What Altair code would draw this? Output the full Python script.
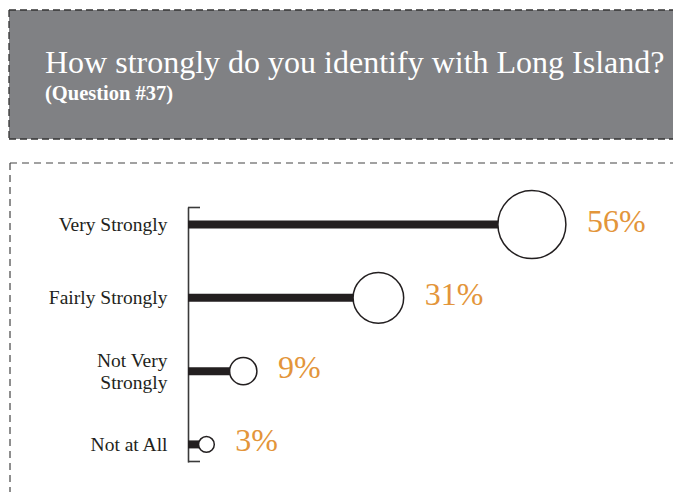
import altair as alt
import pandas as pd

categories = ["Very Strongly", "Fairly Strongly", "Not Very Strongly", "Not at All"]
percents = [56, 31, 9, 3]
title_text = "How strongly do you identify with Long Island?"
subtitle_text = "(Question #37)"

df = pd.DataFrame({"cat": categories, "pct": percents})
df["label"] = [f"{p}%" for p in percents]

X_MAX = 78
W, H = 479, 255
PX_PER_UNIT = W / X_MAX
SIZE_PER_UNIT = 4624 / 56.0

y_enc = alt.Y(
    "cat:N",
    sort=categories,
    scale=alt.Scale(type="point", padding=0.24),
    axis=alt.Axis(
        title=None, ticks=False, grid=False, domain=True,
        domainColor="#3a3a3a", domainWidth=1.6,
        labelPadding=21, labelFontSize=19.5, labelFont="Liberation Serif",
        labelColor="#231f20", labelLineHeight=22,
        labelExpr="datum.value == 'Not Very Strongly' ? ['Not Very', 'Strongly'] : datum.value",
        labelOffset={"condition": {"test": "datum.value == 'Not Very Strongly'", "value": -11}, "value": 0},
    ),
)
x_scale = alt.Scale(domain=[0, X_MAX], zero=True, nice=False)

one = alt.Data(values=[{"k": 1}])

header_fill = alt.Chart(one).mark_rect(fill="#808184", strokeWidth=0).encode(
    x=alt.value(-179), x2=alt.value(900), y=alt.value(-197), y2=alt.value(-68))

dash_dark = dict(color="#333333", strokeDash=[7, 4], strokeWidth=1.3)
h_top = alt.Chart(one).mark_rule(**dash_dark).encode(
    x=alt.value(-179), x2=alt.value(900), y=alt.value(-197))
h_bot = alt.Chart(one).mark_rule(**dash_dark).encode(
    x=alt.value(-179), x2=alt.value(900), y=alt.value(-68))
h_left = alt.Chart(one).mark_rule(**dash_dark).encode(
    x=alt.value(-179), y=alt.value(-197), y2=alt.value(-68))

dash_box = dict(color="#444444", strokeDash=[7, 5], strokeWidth=1.2)
b_top = alt.Chart(one).mark_rule(**dash_box).encode(
    x=alt.value(-178), x2=alt.value(900), y=alt.value(-44))
b_left = alt.Chart(one).mark_rule(**dash_box).encode(
    x=alt.value(-178), y=alt.value(-44), y2=alt.value(600))

title = alt.Chart(one).mark_text(
    text=title_text, align="left", baseline="alphabetic", font="Liberation Serif",
    fontSize=32, color="white"
).encode(x=alt.value(-143), y=alt.value(-134))

subtitle = alt.Chart(one).mark_text(
    text=subtitle_text, align="left", baseline="alphabetic", font="Liberation Serif",
    fontSize=20.5, fontWeight="bold", color="white"
).encode(x=alt.value(-143), y=alt.value(-107))

bracket_top = alt.Chart(one).mark_rule(color="#3a3a3a", strokeWidth=1.6).encode(
    x=alt.value(0), x2=alt.value(12), y=alt.value(0.5))
bracket_bot = alt.Chart(one).mark_rule(color="#3a3a3a", strokeWidth=1.6).encode(
    x=alt.value(0), x2=alt.value(12), y=alt.value(H - 0.5))

base = alt.Chart(df)

bars = base.mark_bar(size=8, color="#231f20").encode(
    x=alt.X("pct:Q", scale=x_scale, axis=None),
    x2=alt.datum(0),
    y=y_enc,
)

circles = base.mark_point(
    shape="circle", filled=True, fill="white", stroke="#231f20", strokeWidth=1.5, opacity=1
).encode(
    x=alt.X("pct:Q", scale=x_scale, axis=None),
    y=y_enc,
    size=alt.Size("pct:Q", scale=alt.Scale(type="linear", domain=[0, 56], range=[0, 4624]), legend=None),
)

labels = base.transform_calculate(
    lx=f"datum.pct + (sqrt(datum.pct * {SIZE_PER_UNIT}) / 2 + 21) / {PX_PER_UNIT}"
).mark_text(
    align="left", baseline="alphabetic", dy=7, font="Liberation Serif",
    fontSize=32, color="#e3953a"
).encode(
    x=alt.X("lx:Q", scale=x_scale, axis=None),
    y=y_enc,
    text="label:N",
)

chart = alt.layer(
    header_fill, h_top, h_bot, h_left, b_top, b_left, title, subtitle,
    bracket_top, bracket_bot, bars, circles, labels
).properties(
    width=W, height=H,
    autosize=alt.AutoSizeParams(type="none"),
    padding={"left": 180, "top": 199, "right": 6, "bottom": 30},
    background="white",
).configure_view(strokeWidth=0)

chart.save("out.html", embed_options={"renderer": "svg", "actions": False})
